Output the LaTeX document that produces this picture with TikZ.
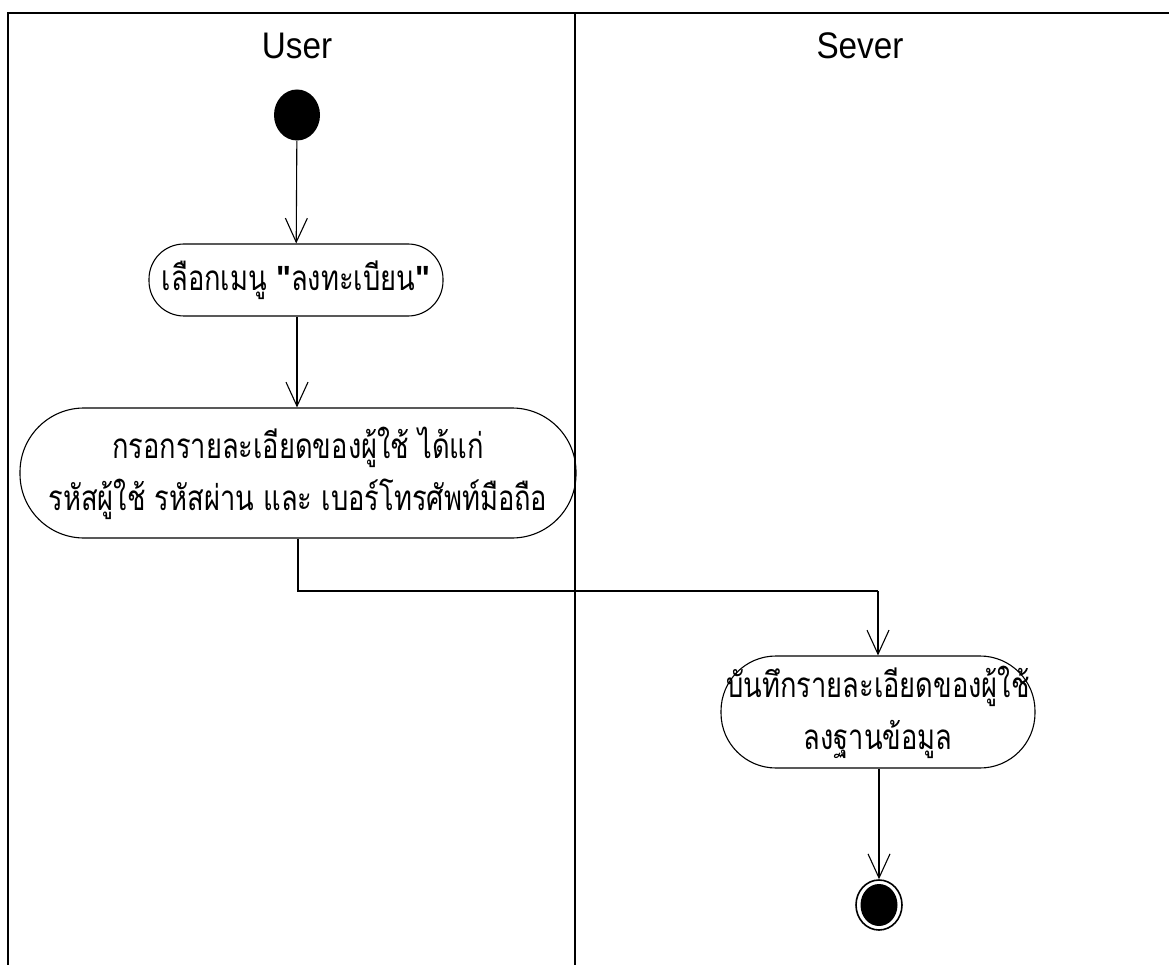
\documentclass[tikz,border=0pt]{standalone}
\usepackage{fontspec}
\setmainfont{Liberation Sans}[FakeStretch=0.9]
\newfontfamily\thaifont[Script=Thai,FakeStretch=0.78]{Loma}
\newfontfamily\quotefont[FakeStretch=0.9]{Liberation Sans Bold}
\newcommand\dq{{\quotefont\symbol{34}}}
\usetikzlibrary{arrows.meta,shapes.geometric}

\tikzset{
  lane/.style={line width=1.8pt, draw=black},
  lanetitle/.style={font=\fontsize{37}{42}\selectfont, inner sep=0pt},
  activity/.style={draw, line width=1.1pt, rectangle, inner sep=0pt,
    align=center, font=\thaifont\fontsize{35}{52}\selectfont},
  flow/.style={line width=1.1pt, -{Straight Barb[length=24pt, width=22pt, line width=1.1pt]}},
  initial/.style={ellipse, fill=black, minimum width=46pt, minimum height=51pt, inner sep=0pt},
  final/.style={ellipse, draw, line width=1.6pt, minimum width=46pt, minimum height=50pt, inner sep=0pt}
}

\begin{document}
\begin{tikzpicture}[x=1pt, y=-1pt]
  \useasboundingbox (0,0) rectangle (1169,965);

  % swimlane frame
  \coordinate (tl) at (8,13);
  \coordinate (bl) at (8,965);
  \coordinate (tr) at (1169,13);
  \coordinate (dtop) at (575,13);
  \coordinate (dbot) at (575,965);
  \draw[lane] (bl) -- (tl) -- (tr);
  \draw[lane] (dtop) -- (dbot);

  % lane titles
  \node[lanetitle] (user) at (297,46) {User};
  \node[lanetitle] (sever) at (860,46) {Sever};

  % activities
  \node[initial] (start) at (297,115) {};
  \node[activity, minimum width=294pt, minimum height=72pt, rounded corners=35pt]
    (choose) at (296,280) {เลือกเมนู \dq ลงทะเบียน\dq};
  \node[activity, minimum width=556pt, minimum height=130pt, rounded corners=64pt]
    (fill) at (298,473) {กรอกรายละเอียดของผู้ใช้ ได้แก่\\รหัสผู้ใช้ รหัสผ่าน และ เบอร์โทรศัพท์มือถือ};
  \node[activity, minimum width=314pt, minimum height=112pt, rounded corners=55pt]
    (save) at (878,712) {บันทึกรายละเอียดของผู้ใช้\\ลงฐานข้อมูล};
  \node[final] (end) at (879,905) {};
  \fill (end.center) ellipse (18.5 and 21);

  % control flow
  \coordinate (bendL) at (298,591);
  \coordinate (bendR) at (878,591);
  \draw[flow] (start) -- (choose);
  \draw[flow] (choose.south -| start) -- (fill.north -| start);
  \draw[line width=1.1pt] (fill.south) -- (bendL) -- (bendR);
  \draw[flow] (bendR) -- (save.north);
  \draw[flow] (save.south -| end) -- (end);
\end{tikzpicture}
\end{document}
